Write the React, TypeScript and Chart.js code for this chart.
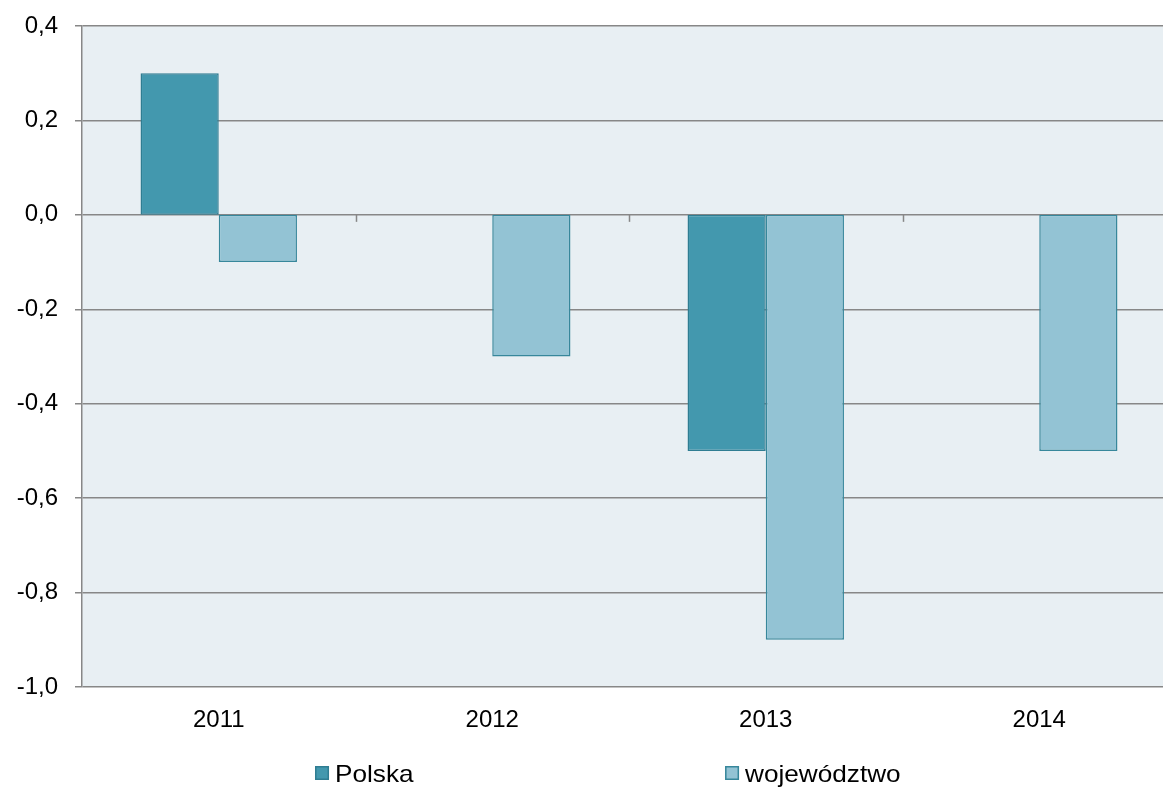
import React, { useEffect, useRef } from "react";
import { Chart, registerables } from "chart.js";

Chart.register(...registerables);

const categories = ["2011", "2012", "2013", "2014"];
const polska = [0.3, 0, -0.5, 0];
const wojewodztwo = [-0.1, -0.3, -0.9, -0.5];
const seriesLabels = ["Polska", "województwo"];
const yMin = -1.0;
const yMax = 0.4;
const yStep = 0.2;

const FONT = "'Liberation Sans', Arial, sans-serif";
const GRID = "#878787";
const fills = ["#4398ae", "#93c3d4"];
const borders = ["#2f7d92", "#37879b"];

const bgPlugin = {
  id: "plotBg",
  beforeDraw(chart: any) {
    const { ctx, chartArea } = chart;
    ctx.save();
    ctx.fillStyle = "#e8eff3";
    ctx.fillRect(chartArea.left, chartArea.top, chartArea.right - chartArea.left, chartArea.bottom - chartArea.top);
    ctx.restore();
  },
};

const zeroTicksPlugin = {
  id: "zeroTicks",
  beforeDatasetsDraw(chart: any) {
    const { ctx } = chart;
    const x = chart.scales.x;
    const y = chart.scales.y;
    const y0 = y.getPixelForValue(0);
    ctx.save();
    ctx.strokeStyle = GRID;
    ctx.lineWidth = 1.5;
    for (let i = 0; i < categories.length - 1; i++) {
      const px = Math.round((x.getPixelForValue(i) + x.getPixelForValue(i + 1)) / 2) + 0.5;
      ctx.beginPath();
      ctx.moveTo(px, y0);
      ctx.lineTo(px, y0 + 7);
      ctx.stroke();
    }
    ctx.restore();
  },
};

const legendPlugin = {
  id: "wideLegend",
  afterDraw(chart: any) {
    const { ctx, chartArea } = chart;
    const w = chartArea.right - chartArea.left;
    const positions = [chartArea.left + 0.213 * w, chartArea.left + 0.5878 * w];
    const cy = 773;
    ctx.save();
    ctx.font = `24px ${FONT}`;
    ctx.textBaseline = "middle";
    ctx.textAlign = "left";
    seriesLabels.forEach((lab, i) => {
      const bx = positions[i];
      ctx.fillStyle = fills[i];
      ctx.fillRect(bx, cy - 7, 14, 14);
      ctx.strokeStyle = borders[i];
      ctx.lineWidth = 1.5;
      ctx.strokeRect(bx + 0.75, cy - 6.25, 12.5, 12.5);
      ctx.fillStyle = "#000";
      ctx.save();
      ctx.translate(bx + 20, cy + 2);
      ctx.scale(1.09, 1);
      ctx.fillText(lab, 0, 0);
      ctx.restore();
    });
    ctx.restore();
  },
};

export default function App() {
  const ref = useRef<HTMLCanvasElement | null>(null);
  useEffect(() => {
    if (!ref.current) return;
    const chart = new Chart(ref.current, {
      type: "bar",
      data: {
        labels: categories,
        datasets: [
          {
            label: seriesLabels[0],
            data: polska,
            backgroundColor: fills[0],
            borderColor: borders[0],
            borderWidth: 1.5,
            borderSkipped: false,
            categoryPercentage: 0.572,
            barPercentage: 1,
          },
          {
            label: seriesLabels[1],
            data: wojewodztwo,
            backgroundColor: fills[1],
            borderColor: borders[1],
            borderWidth: 1.5,
            borderSkipped: false,
            categoryPercentage: 0.572,
            barPercentage: 1,
          },
        ],
      },
      options: {
        animation: false,
        responsive: true,
        maintainAspectRatio: false,
        layout: { padding: { top: 26, right: 14, bottom: 48, left: 0 } },
        plugins: { legend: { display: false }, tooltip: { enabled: false } },
        scales: {
          x: {
            grid: { display: false, drawTicks: false },
            border: { display: false },
            ticks: { color: "#000", font: { family: FONT, size: 24 }, padding: 19, maxRotation: 0 },
            afterFit: (s: any) => {
              s.height = 55;
              s.paddingLeft = 0;
              s.paddingRight = 0;
            },
          },
          y: {
            min: yMin,
            max: yMax,
            grid: { color: GRID, lineWidth: 1.5, drawTicks: true, tickLength: 7, tickColor: GRID },
            border: { display: true, color: GRID, width: 1.5 },
            ticks: {
              stepSize: yStep,
              color: "#000",
              font: { family: FONT, size: 24 },
              padding: 17,
              callback: (v: any) => {
                const n = Math.round(Number(v) * 10) / 10;
                return (n === 0 ? 0 : n).toFixed(1).replace(".", ",");
              },
            },
            afterFit: (s: any) => {
              s.width = 82;
              s.paddingTop = 0;
              s.paddingBottom = 0;
            },
          },
        },
      },
      plugins: [bgPlugin, zeroTicksPlugin, legendPlugin],
    });
    return () => chart.destroy();
  }, []);
  return (
    <div style={{ position: "fixed", left: 0, top: 0, width: 1163, height: 790, overflow: "hidden", background: "#fff" }}>
      <div style={{ position: "relative", width: 1190, height: 790 }}>
        <canvas ref={ref} />
      </div>
    </div>
  );
}
